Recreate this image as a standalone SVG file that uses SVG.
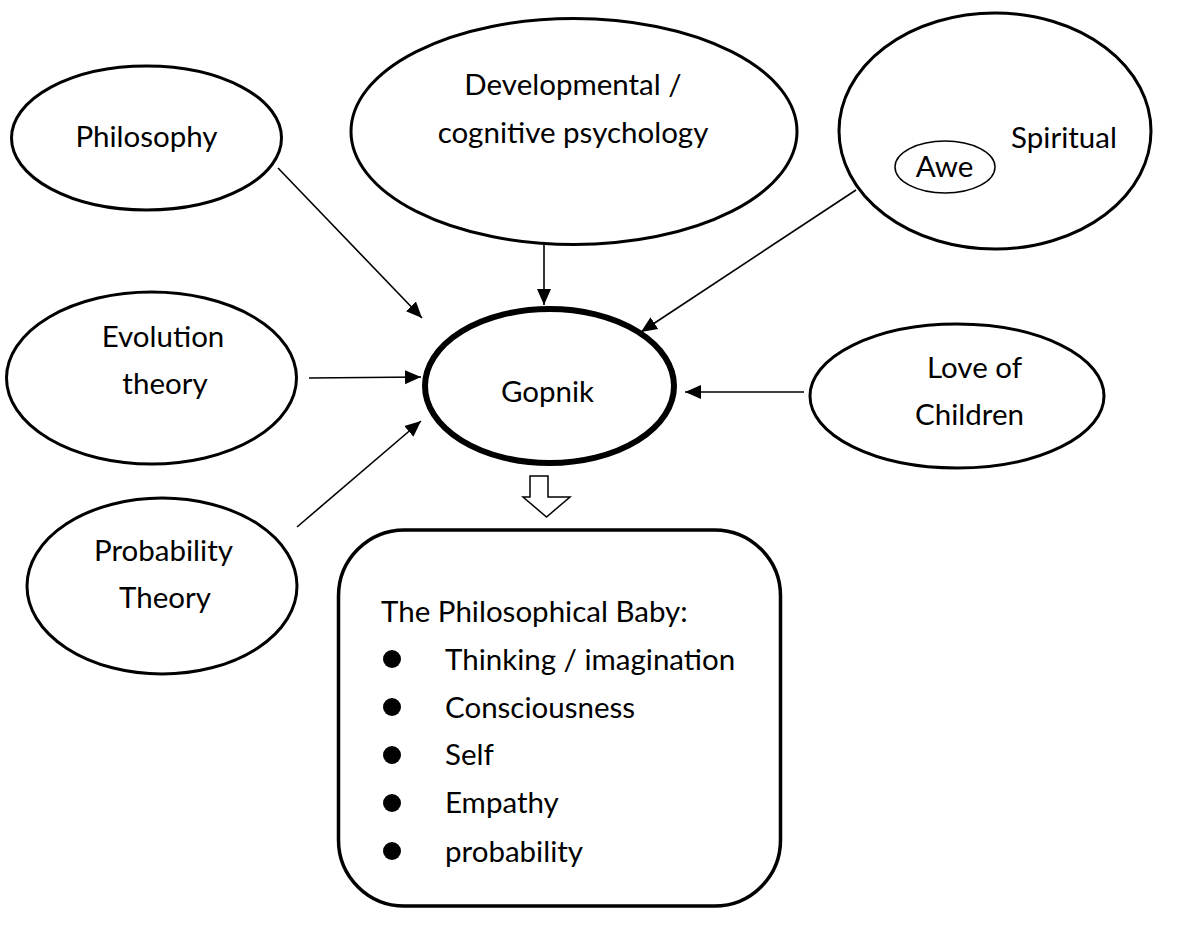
<svg xmlns="http://www.w3.org/2000/svg" width="1200" height="931" viewBox="0 0 1200 931">
<defs>
<style>
.n{fill:#fff;stroke:#000;stroke-width:3}
.t{font-family:Lato,"Open Sans","Liberation Sans",sans-serif;font-size:29.5px;fill:#000}
.c{text-anchor:middle}
.e{stroke:#000;stroke-width:1.6;fill:none;marker-end:url(#ah)}
</style>
<marker id="ah" markerUnits="userSpaceOnUse" markerWidth="16" markerHeight="16" viewBox="0 0 16 16" refX="16" refY="8" orient="auto">
<path d="M0,1 L16,8 L0,15 Z" fill="#000"/>
</marker>
</defs>
<rect width="1200" height="931" fill="#fff"/>
<g id="philosophy">
<ellipse class="n" cx="146.5" cy="138" rx="135" ry="72"/>
<text class="t c" x="146.5" y="147">Philosophy</text>
</g>
<g id="developmental">
<ellipse class="n" cx="574" cy="131.5" rx="223" ry="113"/>
<text class="t c" x="573" y="95">Developmental /</text>
<text class="t c" x="573" y="143">cognitive psychology</text>
</g>
<g id="spiritual">
<ellipse class="n" cx="995" cy="131" rx="156" ry="118"/>
<text class="t c" x="1064" y="148">Spiritual</text>
<g id="awe">
<ellipse cx="945" cy="167" rx="50" ry="26" fill="#fff" stroke="#000" stroke-width="1.5"/>
<text class="t c" x="944.5" y="177">Awe</text>
</g>
</g>
<g id="evolution">
<ellipse class="n" cx="151.5" cy="378" rx="145" ry="86"/>
<text class="t c" x="163" y="347">Evolution</text>
<text class="t c" x="165" y="394">theory</text>
</g>
<g id="gopnik">
<ellipse cx="549.5" cy="386" rx="124.5" ry="77" fill="#fff" stroke="#000" stroke-width="6"/>
<text class="t c" x="547.5" y="402">Gopnik</text>
</g>
<g id="love">
<ellipse class="n" cx="957" cy="396" rx="147" ry="72"/>
<text class="t c" x="974.5" y="378">Love of</text>
<text class="t c" x="969.5" y="425">Children</text>
</g>
<g id="probability">
<ellipse class="n" cx="162" cy="586" rx="135" ry="88"/>
<text class="t c" x="163.5" y="561">Probability</text>
<text class="t c" x="165" y="608">Theory</text>
</g>
<g id="connectors">
<line class="e" x1="278" y1="168" x2="422" y2="318"/>
<line class="e" x1="544" y1="245" x2="544" y2="305"/>
<line class="e" x1="856" y1="190" x2="641" y2="332"/>
<line class="e" x1="309" y1="378" x2="421" y2="377"/>
<line class="e" x1="297" y1="527" x2="421" y2="421"/>
<line class="e" x1="804" y1="392" x2="685" y2="392"/>
<path id="hollow-arrow" d="M530,476 L548,476 L548,497 L570,497 L546.5,517 L523,497 L530,497 Z" fill="#fff" stroke="#000" stroke-width="1.5" stroke-linejoin="miter"/>
</g>
<g id="result">
<rect x="338.5" y="530" width="442" height="376" rx="66" ry="66" fill="#fff" stroke="#000" stroke-width="3.5"/>
<text class="t" x="381" y="622">The Philosophical Baby:</text>
<circle cx="392" cy="659" r="9"/>
<circle cx="392" cy="707" r="9"/>
<circle cx="392" cy="755" r="9"/>
<circle cx="392" cy="803" r="9"/>
<circle cx="392" cy="851" r="9"/>
<text class="t" x="445" y="670">Thinking / imagination</text>
<text class="t" x="445" y="718">Consciousness</text>
<text class="t" x="445" y="765">Self</text>
<text class="t" x="445" y="813">Empathy</text>
<text class="t" x="445" y="862">probability</text>
</g>
</svg>
